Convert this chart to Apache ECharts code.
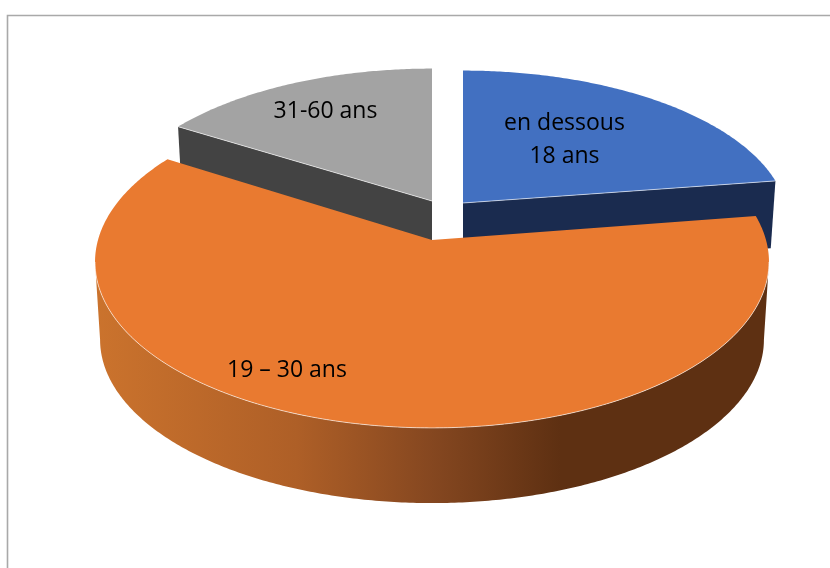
<!DOCTYPE html>
<html><head><meta charset="utf-8">
<style>html,body{margin:0;padding:0;background:#fff}#c{width:830px;height:568px}</style>
<script src="https://cdn.jsdelivr.net/npm/echarts@6/dist/echarts.min.js"></script>
</head><body><div id="c"></div>
<script>
var categories = ['en dessous\n18 ans', '19 – 30 ans', '31-60 ans'];
var shares = [22.6, 61.3, 16.1];
var topColors = ['#4270c1', '#e97a30', '#a3a3a3'];
var wallColors = ['#1a2b4f', '#5e3012', '#434343'];
// per-slice placement of the exploded pieces: apex, scale
var apexX = [463, 432, 432], apexY = [203, 240, 201];
var scaleX = [0.965, 1, 0.96], scaleY = [0.92, 1, 0.92];
var labelX = [564.5, 287, 325.5], labelY = [140, 370, 111];
var drawOrder = [2, 0, 1];

var R = 334, C = 163, K = 0.1325, DEPTH = 78, BOTTOM_SCALE = 0.985;
var total = shares.reduce(function (a, b) { return a + b; }, 0);
var starts = [], run = 0;
shares.forEach(function (v) { starts.push(run / total * Math.PI * 2); run += v; });

function pt(i, th, r, drop) {
  var X = Math.sin(th) * r, Y = Math.cos(th) * r;
  var w = 1 + K * Y;
  var s = drop ? BOTTOM_SCALE : 1;
  return [apexX[i] + R * X / w * scaleX[i] * s, apexY[i] - C * Y / w * scaleY[i] * s + (drop || 0)];
}
function arc(i, a, b, drop) {
  var n = Math.max(2, Math.ceil(Math.abs(b - a) / 0.01)), out = [];
  for (var j = 0; j <= n; j++) out.push(pt(i, a + (b - a) * j / n, 1, drop));
  return out;
}
function poly(points, fill, z) {
  return { type: 'polygon', z2: z, shape: { points: points }, style: { fill: fill } };
}
function line(points, z) {
  return { type: 'polyline', z2: z, shape: { points: points }, style: { fill: null, stroke: 'rgba(255,255,255,0.6)', lineWidth: 1 } };
}
var FONT = '23px "Open Sans", sans-serif';

var renderItem = function (params, api) {
  var i = api.value(0);
  var a = starts[i], b = a + api.value(1) / total * Math.PI * 2;
  var apex = pt(i, 0, 0), kids = [];
  if (i === 1) {
    // the rim is visible only between the two silhouette angles of the projected ellipse
    var thR = Math.acos(-K), thL = 2 * Math.PI - thR;
    var wa = Math.max(a, thR), wb = Math.min(b, thL);
    var upper = arc(i, wa, wb), lower = arc(i, wa, wb, DEPTH);
    kids.push({
      type: 'polygon', z2: 1, shape: { points: upper.concat(lower.slice().reverse()) },
      style: { fill: new echarts.graphic.LinearGradient(95, 0, 769, 0, [
        { offset: 0, color: '#cb732d' }, { offset: 0.3, color: '#ae5f27' },
        { offset: 0.5, color: '#854720' }, { offset: 0.69, color: '#5e3012' },
        { offset: 1, color: '#5e3012' }], true) }
    });
    kids.push(poly([apex].concat(arc(i, a, b)), topColors[i], 2));
    kids.push(line(upper, 3));
  } else {
    var edgeTh = i === 0 ? b : a;
    var rim = pt(i, edgeTh, 1), rimLow = pt(i, edgeTh, 1, DEPTH - 11), apexLow = pt(i, 0, 0, DEPTH - 11);
    kids.push(poly([apex, rim, rimLow, apexLow], wallColors[i], 1));
    kids.push(poly([apex].concat(arc(i, a, b)), topColors[i], 2));
    kids.push(line([apex, rim], 3));
  }
  return {
    type: 'group',
    children: kids.concat([{
      type: 'text', z2: 5,
      style: { text: categories[i], x: labelX[i], y: labelY[i], font: FONT, fill: '#000',
        textAlign: 'center', textVerticalAlign: 'middle', lineHeight: 33 }
    }])
  };
};

var chart = echarts.init(document.getElementById('c'), null, { renderer: 'canvas' });
chart.setOption({
  animation: false,
  backgroundColor: '#fff',
  graphic: [{ type: 'polyline', silent: true, z: -1,
    shape: { points: [[7.5, 568], [7.5, 15.5], [830, 15.5]] },
    style: { fill: null, stroke: '#a9a9a9', lineWidth: 1.6 } }],
  series: [{
    type: 'custom', coordinateSystem: 'none', renderItem: renderItem,
    data: drawOrder.map(function (i) { return { name: categories[i], value: [i, shares[i]] }; })
  }]
});
</script></body></html>
